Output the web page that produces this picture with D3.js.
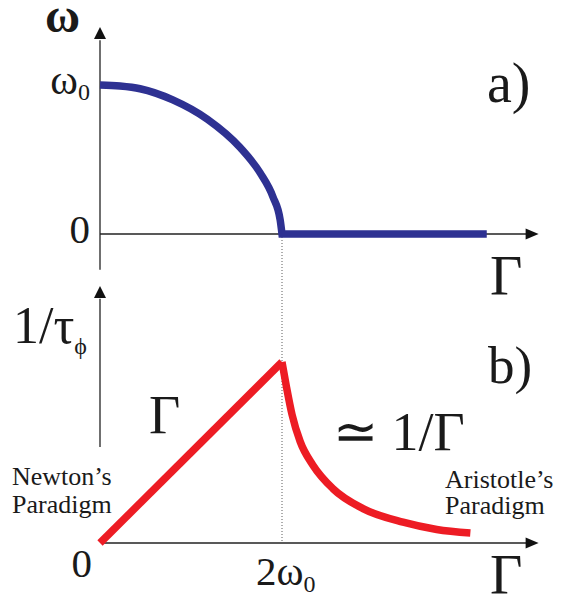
<!DOCTYPE html>
<html>
<head>
<meta charset="utf-8">
<script src="https://cdn.jsdelivr.net/npm/d3@7"></script>
</head>
<body style="margin:0">
<svg></svg>
<script>
var width = 562,
    height = 595;

// panel a) : oscillation frequency vs damping (Gamma in units of omega0)
var gammaA = [0, 0.22, 0.44, 0.80, 1.18, 1.54, 1.76, 1.90, 1.98, 2.0];
var omegaA = [1.0, 0.993, 0.975, 0.90, 0.77, 0.58, 0.41, 0.25, 0.094, 0];
var gammaFlat = [2.0, 4.25];
var omegaFlat = [0, 0];

// panel b) : dephasing rate vs damping
var gammaRise = [0, 2.0];
var rateRise = [0, 1.0];
var gammaFall = [2.0, 2.05, 2.11, 2.20, 2.34, 2.56, 2.89, 3.33, 3.70, 4.07];
var rateFall = [1.0, 0.86, 0.71, 0.56, 0.43, 0.30, 0.19, 0.115, 0.075, 0.055];

var ticksA = [{v: 0, label: "0", sub: ""}, {v: 1, label: "ω", sub: "0"}];
var ticksBx = [{v: 2, label: "2ω", sub: "0"}];

var fontName = ["Liberation", "Serif"].join(" ");

var svg = d3.select("svg")
    .attr("width", width)
    .attr("height", height);

var x = d3.scaleLinear().domain([0, 2]).range([100, 282]);
var yA = d3.scaleLinear().domain([0, 1]).range([234, 85]);
var yB = d3.scaleLinear().domain([0, 1]).range([543, 362]);

function zip(a, b) { return a.map(function (d, i) { return [d, b[i]]; }); }

function arrowRight(px, py) {
    return "M" + px + "," + py + "L" + (px - 13) + "," + (py - 5.5) + "L" + (px - 13) + "," + (py + 5.5) + "Z";
}
function arrowUp(px, py) {
    return "M" + px + "," + py + "L" + (px - 6) + "," + (py + 12) + "L" + (px + 6) + "," + (py + 12) + "Z";
}

var axes = svg.append("g").attr("class", "axes");

// dotted guide at Gamma = 2 omega0
axes.append("line")
    .attr("x1", x(2)).attr("x2", x(2))
    .attr("y1", yA(0)).attr("y2", yB(0))
    .attr("stroke", "#333").attr("stroke-width", 0.8)
    .attr("stroke-dasharray", "1,2");

// panel a axes
axes.append("line")
    .attr("x1", x(0)).attr("x2", x(4.7))
    .attr("y1", yA(0)).attr("y2", yA(0))
    .attr("stroke", "#222").attr("stroke-width", 1.3);
axes.append("path").attr("d", arrowRight(x(4.82), yA(0))).attr("fill", "#111");
axes.append("line")
    .attr("x1", x(0)).attr("x2", x(0))
    .attr("y1", yA(-0.24)).attr("y2", yA(1.3))
    .attr("stroke", "#222").attr("stroke-width", 1.3);
axes.append("path").attr("d", arrowUp(x(0), yA(1.39))).attr("fill", "#111");

// panel b axes
axes.append("line")
    .attr("x1", x(0.03)).attr("x2", x(4.7))
    .attr("y1", yB(0)).attr("y2", yB(0))
    .attr("stroke", "#222").attr("stroke-width", 1.3);
axes.append("path").attr("d", arrowRight(x(4.82), yB(0))).attr("fill", "#111");
axes.append("line")
    .attr("x1", x(0)).attr("x2", x(0))
    .attr("y1", yB(0.53)).attr("y2", yB(1.35))
    .attr("stroke", "#222").attr("stroke-width", 1.3);
axes.append("path").attr("d", arrowUp(x(0), yB(1.42))).attr("fill", "#111");

// curves
var smoothA = d3.line()
    .x(function (d) { return x(d[0]); })
    .y(function (d) { return yA(d[1]); })
    .curve(d3.curveMonotoneX);
var straightA = d3.line()
    .x(function (d) { return x(d[0]); })
    .y(function (d) { return yA(d[1]); });

svg.append("path")
    .attr("d", smoothA(zip(gammaA, omegaA)) + straightA(zip(gammaFlat, omegaFlat)).replace(/^M/, "L"))
    .attr("fill", "none")
    .attr("stroke", "#2e3192")
    .attr("stroke-width", 7.5)
    .attr("stroke-linejoin", "miter");

var lineB = d3.line()
    .x(function (d) { return x(d[0]); })
    .y(function (d) { return yB(d[1]); });

svg.append("path")
    .attr("d", lineB(zip(gammaRise, rateRise)))
    .attr("fill", "none")
    .attr("stroke", "#ed1c24")
    .attr("stroke-width", 7.5);

svg.append("path")
    .attr("d", lineB.curve(d3.curveMonotoneX)(zip(gammaFall, rateFall)))
    .attr("fill", "none")
    .attr("stroke", "#ed1c24")
    .attr("stroke-width", 7.5);

// labels
function addText(px, py, size, str, sub, subSize, subDy, bold) {
    var t = svg.append("text")
        .attr("x", px).attr("y", py)
        .attr("font-size", size)
        .style("font-family", "'" + fontName + "'")
        .attr("fill", "#1a1a1a")
        .text(str);
    if (bold) t.attr("font-weight", "bold");
    if (sub) {
        t.append("tspan")
            .attr("font-size", subSize)
            .attr("dy", subDy)
            .text(sub);
    }
    return t;
}

// axis titles
addText(45, 32, 48, "ω", "", 0, 0, true);
addText(490, 295, 56, "Γ");
addText(490, 594, 56, "Γ");
addText(13, 343, 52, "1/τ", "ϕ", 24, 11);

// panel a tick labels
ticksA.forEach(function (t) {
    var sz = t.v === 0 ? 41 : 42;
    addText(90, yA(t.v) + 9, sz, t.label, t.sub, 24, 6).attr("text-anchor", "end");
});

// panel b tick labels
addText(92, yB(0) + 34, 41, "0").attr("text-anchor", "end");
ticksBx.forEach(function (t) {
    addText(x(t.v) - 26, yB(0) + 42, 41, t.label, t.sub, 24, 7);
});

// panel tags
addText(487, 102, 56, "a)");
addText(488, 383, 53, "b)");

// annotations
addText(149, 433, 54, "Γ");
addText(333, 450, 54, "≃ 1/Γ");
addText(12, 485, 26, "Newton’s");
addText(12, 513, 26, "Paradigm");
addText(445, 488, 26, "Aristotle’s");
addText(445, 514, 26, "Paradigm");
</script>
</body>
</html>
